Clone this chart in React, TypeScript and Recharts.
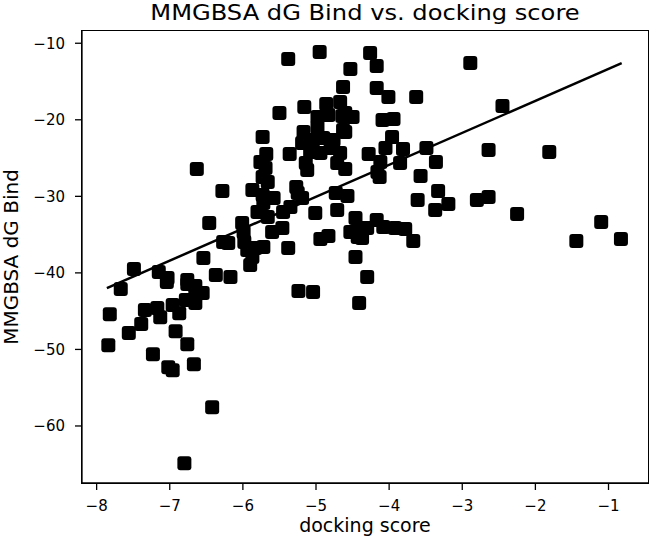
import { ScatterChart, Scatter, XAxis, YAxis } from "recharts";

// values
const dockingScore = [
  -5.38, -4.95, -4.53, -4.63, -5.5, -5.16, -4.86, -4.67, -4.98, -4.83,
  -4.64, -4.5, -4.98, -4.63, -5.73, -5.17, -4.6, -5.19, -5.04, -4.9,
  -4.76, -4.67, -5.08, -4.94, -4.8, -5.36, -5.68, -5.76, -5.69, -5.73,
  -5.66, -6.63, -5.14, -5.12, -4.71, -4.6, -6.28, -5.87, -5.73, -5.72,
  -5.58, -5.27, -5.25, -5.19, -4.73, -4.57, -5.8, -5.66, -5.45, -5.35,
  -5.01, -4.71, -6.46, -6.01, -5.99, -5.6, -5.46, -4.94, -4.83, -4.53,
  -4.43, -6.27, -6.2, -5.98, -5.94, -5.72, -5.83, -5.38, -6.54, -5.87,
  -5.9, -4.46, -7.49, -7.15, -7.03, -6.76, -6.37, -6.17, -4.26, -4.17,
  -2.89, -4.17, -4.01, -3.63, -2.45, -4.6, -4.09, -3.94, -3.96, -4.05,
  -3.81, -3.49, -2.64, -1.81, -4.28, -4.12, -3.85, -3.36, -4.16, -4.13,
  -3.57, -3.33, -3.61, -3.19, -3.37, -2.8, -2.64, -2.25, -4.46, -4.39,
  -4.37, -4.3, -4.17, -4.08, -3.92, -3.78, -3.67, -4.3, -1.1, -1.44,
  -0.83, -7.04, -7.67, -6.76, -6.65, -6.55, -6.65, -6.78, -6.65, -5.24,
  -5.04, -4.41, -7.82, -7.34, -7.17, -7.13, -6.96, -6.87, -7.39, -7.56,
  -6.92, -7.84, -6.76, -7.23, -7.02, -6.96, -6.67, -6.42, -6.8,
];

const dgBind = [
  -12.05, -11.14, -13.36, -15.71, -19.11, -18.33, -17.93, -17.67, -19.63, -19.37,
  -19.5, -19.63, -20.94, -21.33, -22.25, -21.59, -21.59, -23.03, -22.64, -22.38,
  -22.64, -24.34, -24.21, -24.34, -23.69, -24.47, -24.47, -25.52, -26.3, -27.48,
  -28.13, -26.43, -25.65, -26.56, -25.65, -26.43, -29.31, -29.18, -29.83, -30.88,
  -30.22, -28.78, -29.57, -30.22, -29.57, -29.96, -32.05, -32.71, -32.05, -31.4,
  -32.18, -31.79, -33.49, -33.49, -34.67, -34.67, -34.14, -35.58, -35.19, -34.67,
  -35.32, -35.97, -36.1, -35.97, -37.02, -36.63, -36.76, -36.76, -38.07, -37.94,
  -38.98, -37.94, -39.5, -39.9, -40.68, -40.94, -40.29, -40.55, -11.27, -12.97,
  -12.58, -15.84, -17.02, -17.02, -18.2, -19.11, -20.03, -19.9, -22.25, -23.69,
  -23.82, -23.69, -23.95, -24.21, -24.47, -25.52, -25.65, -25.52, -26.82, -27.48,
  -27.35, -29.31, -30.48, -31.01, -31.79, -30.48, -30.09, -32.31, -32.84, -34.14,
  -35.45, -34.14, -33.1, -34.01, -34.14, -34.27, -35.84, -40.55, -33.36, -35.84,
  -35.58, -41.2, -42.12, -41.46, -41.72, -42.64, -42.9, -43.55, -43.95, -42.38,
  -42.51, -43.95, -45.39, -44.86, -44.6, -45.78, -44.21, -45.26, -46.69, -47.87,
  -47.61, -49.44, -49.31, -50.62, -52.32, -52.71, -51.92, -57.54, -64.86,
];

// end points of the fitted line
const fitDocking = [-7.86, -0.82];
const fitBind = [-41.99, -12.61];

const xTicks = [-8, -7, -6, -5, -4, -3, -2, -1];
const yTicks = [-60, -50, -40, -30, -20, -10];

const points = dockingScore.map((x, i) => ({ x, y: dgBind[i] }));
const fit = fitDocking.map((x, i) => ({ x, y: fitBind[i] }));

const FONT = "'DejaVu Sans', sans-serif";
const TICK = { fill: "#000", fontSize: 15, fontFamily: FONT };
const X_DOMAIN: [number, number] = [-8.2, -0.46];
const Y_DOMAIN: [number, number] = [-67.45, -8.4];

// plot box, shared by the chart margins and the frame overlay
const PLOT = { left: 82, top: 31, width: 566, height: 452 };

const minus = (v: number) => String(v).replace("-", "\u2212");

if (typeof document !== "undefined") document.body.style.margin = "0";

function SquareDot(props: any) {
  const { cx, cy } = props;
  if (cx == null || cy == null) return <g />;
  return <rect x={cx - 7} y={cy - 7} width={14} height={14} rx={3} fill="#000" />;
}

const overlay = { position: "absolute" as const, textAlign: "center" as const, zIndex: 2 };

export default function App() {
  return (
    <div style={{ position: "relative", width: 653, height: 543, fontFamily: FONT, color: "#000" }}>
      <ScatterChart
        width={653}
        height={543}
        margin={{ top: PLOT.top, right: 653 - PLOT.left - PLOT.width, bottom: 0, left: 0 }}
      >
        <XAxis
          type="number"
          dataKey="x"
          domain={X_DOMAIN}
          allowDataOverflow
          ticks={xTicks}
          tickFormatter={minus}
          tick={TICK}
          tickSize={7}
          tickMargin={10}
          height={543 - PLOT.top - PLOT.height}
          stroke="#000"
          strokeWidth={1.3}
        />
        <YAxis
          type="number"
          dataKey="y"
          domain={Y_DOMAIN}
          allowDataOverflow
          ticks={yTicks}
          tickFormatter={minus}
          tick={TICK}
          tickSize={7}
          tickMargin={10}
          width={PLOT.left}
          stroke="#000"
          strokeWidth={1.3}
        />
        <Scatter data={points} shape={SquareDot} isAnimationActive={false} />
        <Scatter
          data={fit}
          shape={() => <g />}
          line={{ stroke: "#000", strokeWidth: 2.5 }}
          isAnimationActive={false}
        />
      </ScatterChart>
      {/* matplotlib style box round the plot */}
      <div
        style={{
          position: "absolute",
          left: PLOT.left - 0.65,
          top: PLOT.top - 0.65,
          width: PLOT.width + 1.3,
          height: PLOT.height + 1.3,
          border: "1.3px solid #000",
          boxSizing: "border-box",
          pointerEvents: "none",
        }}
      />
      <div style={{ ...overlay, left: 82, width: 566, top: 1, lineHeight: "24px", fontSize: 21, transform: "scaleX(1.15)" }}>
        MMGBSA dG Bind vs. docking score
      </div>
      <div style={{ ...overlay, left: -139, top: 246, width: 300, lineHeight: "22px", fontSize: 20, transform: "rotate(-90deg)" }}>
        MMGBSA dG Bind
      </div>
      <div style={{ ...overlay, left: 82, width: 566, top: 518, height: 14, lineHeight: "14px", fontSize: 19 }}>
        docking score
      </div>
    </div>
  );
}
